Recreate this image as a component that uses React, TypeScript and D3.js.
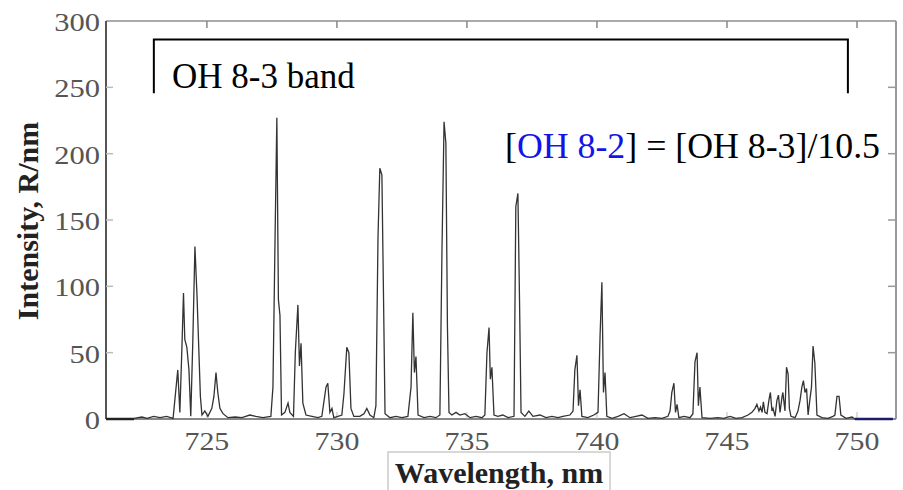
import React from "react";
import { scaleLinear, line } from "d3";

// OH 8-3 band airglow spectrum
const wavelength = [
  722.2, 722.5, 722.7, 722.95, 723.2, 723.45, 723.7, 723.88, 723.96, 724.04, 724.1, 724.15,
  724.23, 724.31, 724.38, 724.46, 724.54, 724.62, 724.69, 724.75, 724.81, 724.92, 725.04,
  725.19, 725.27, 725.35, 725.42, 725.5, 725.62, 725.81, 726.08, 726.35, 726.65, 726.88,
  727.15, 727.46, 727.54, 727.62, 727.69, 727.75, 727.81, 727.87, 728.0, 728.12, 728.19,
  728.33, 728.4, 728.5, 728.56, 728.62, 728.69, 728.81, 729.04, 729.27, 729.42, 729.58,
  729.65, 729.73, 729.81, 729.88, 730.04, 730.19, 730.27, 730.38, 730.46, 730.54, 730.65,
  730.88, 731.04, 731.15, 731.27, 731.42, 731.5, 731.58, 731.65, 731.73, 731.79, 731.85,
  732.04, 732.27, 732.5, 732.73, 732.85, 732.92, 732.98, 733.04, 733.12, 733.35, 733.58,
  733.81, 733.96, 734.04, 734.12, 734.19, 734.25, 734.31, 734.42, 734.58, 734.73, 734.92,
  735.12, 735.35, 735.58, 735.69, 735.77, 735.85, 735.9, 735.96, 736.04, 736.19, 736.38,
  736.58, 736.81, 736.88, 736.96, 737.02, 737.08, 737.23, 737.38, 737.54, 737.81, 738.04,
  738.27, 738.5, 738.69, 738.96, 739.08, 739.15, 739.23, 739.29, 739.35, 739.42, 739.65,
  739.88, 740.04, 740.12, 740.19, 740.25, 740.31, 740.38, 740.58, 740.81, 741.04, 741.27,
  741.5, 741.73, 741.96, 742.23, 742.5, 742.73, 742.81, 742.88, 742.96, 743.02, 743.08,
  743.15, 743.35, 743.58, 743.69, 743.77, 743.85, 743.9, 743.96, 744.04, 744.35, 744.65,
  744.88, 745.12, 745.35, 745.58, 745.81, 745.96, 746.08, 746.15, 746.23, 746.29, 746.35,
  746.4, 746.46, 746.54, 746.62, 746.67, 746.73, 746.77, 746.85, 746.92, 746.98, 747.04,
  747.12, 747.15, 747.23, 747.29, 747.35, 747.4, 747.46, 747.62, 747.73, 747.81, 747.88,
  747.94, 748.0, 748.06, 748.12, 748.19, 748.25, 748.31, 748.38, 748.46, 748.65, 748.88,
  749.08, 749.15, 749.23, 749.31, 749.38, 749.58, 749.81, 749.92,
];
const intensity = [
  0.5, 1.5, 0.5, 2, 1, 2, 0.5, 37, 5, 54, 95, 60,
  54, 37, 2, 60, 130, 93, 52, 17, 3, 6, 2,
  8, 17, 35, 20, 8, 4, 1, 1.5, 1, 3, 2,
  1, 2, 24, 135, 227, 90, 78, 3, 5, 12, 5,
  2, 50, 86, 40, 57, 12, 3, 2, 1, 2, 24,
  27, 5, 8, 1, 2, 3, 19, 54, 50, 8, 2,
  2, 4, 8, 3, 1, 10, 137, 189, 184, 95, 4,
  1, 2, 1, 2, 24, 80, 35, 47, 3, 1, 2,
  1, 3, 127, 224, 208, 70, 5, 3, 5, 3, 4,
  1, 2, 1, 3, 50, 69, 30, 39, 3, 2, 3,
  1, 2, 160, 170, 93, 5, 2, 6, 2, 3, 1,
  2, 1, 2, 3, 6, 37, 48, 10, 22, 2, 1,
  3, 5, 63, 103, 20, 35, 2, 0.5, 2, 4, 1,
  2, 3, 0.5, 1, 0.5, 2, 6, 20, 27, 5, 11,
  1, 2, 1, 4, 43, 50, 10, 24, 1, 0.5, 1,
  0.5, 2, 0.5, 1, 3, 5, 8, 11, 6, 9, 5,
  13, 5, 4, 15, 20, 6, 8, 2, 14, 18, 5,
  17, 20, 6, 39, 34, 8, 2, 1, 6, 14, 24,
  29, 20, 23, 3, 15, 24, 55, 42, 3, 1, 0.5,
  2, 3, 17, 17, 3, 0.5, 1.5, 0,
];
// flat zero segments at both ends of the window
const leftFlat = [721.12, 722.2];
const rightFlat = [749.92, 751.38];

const xTicks = [725, 730, 735, 740, 745, 750];
const yTicks = [0, 50, 100, 150, 200, 250, 300];

const bandRange = [722.96, 749.65];
const bracketTop = 286;
const bracketFoot = 245.5;

const serif = "'Liberation Serif', 'Times New Roman', serif";

export default function App() {
  const width = 903;
  const height = 490;
  const x = scaleLinear().domain([721.12, 751.5]).range([106, 896]);
  const y = scaleLinear().domain([0, 300]).range([419, 21]);

  const pts = wavelength.map((w, i) => [w, intensity[i]] as [number, number]);
  const path = line<[number, number]>()
    .x((d) => x(d[0]))
    .y((d) => y(d[1]));

  const [x0, x1] = x.range();
  const [yb, yt] = y.range();

  return (
    <svg
      width={width}
      height={height}
      style={{ position: "absolute", left: 0, top: 0, background: "#fff" }}
    >
      {/* frame */}
      <line x1={x0} x2={x1} y1={yt} y2={yt} stroke="#aaa" strokeWidth={2} />
      <line x1={x1} x2={x1} y1={yt} y2={yb} stroke="#999" strokeWidth={2} />
      <line x1={x0} x2={x1} y1={yb} y2={yb} stroke="#888" strokeWidth={2} />
      <line x1={x0} x2={x0} y1={yt} y2={yb} stroke="#555" strokeWidth={2} />

      {xTicks.map((t) => (
        <g key={"xt" + t}>
          <line x1={x(t)} x2={x(t)} y1={yt} y2={yt + 7} stroke="#888" strokeWidth={1.5} />
          <line x1={x(t)} x2={x(t)} y1={yb} y2={yb - 7} stroke="#bbb" strokeWidth={1} />
          <text
            transform={`translate(${x(t)},${yb + 31}) scale(1.15,1)`}
            textAnchor="middle"
            fontFamily={serif}
            fontSize={26}
            fill="#555"
          >
            {t}
          </text>
        </g>
      ))}
      {yTicks.map((t) => (
        <g key={"yt" + t}>
          {t > 0 && t < 300 && (
            <>
              <line x1={x0} x2={x0 + 7} y1={y(t)} y2={y(t)} stroke="#bbb" strokeWidth={1.5} />
              <line x1={x1} x2={x1 - 8} y1={y(t)} y2={y(t)} stroke="#999" strokeWidth={1.5} />
            </>
          )}
          <text
            transform={`translate(100,${y(t) + 10}) scale(1.22,1)`}
            textAnchor="end"
            fontFamily={serif}
            fontSize={25}
            fill="#555"
          >
            {t}
          </text>
        </g>
      ))}

      {/* spectrum */}
      <path
        d={path([[leftFlat[0], 0], [leftFlat[1], 0]]) || ""}
        fill="none"
        stroke="#222"
        strokeWidth={2.5}
      />
      <path d={path(pts) || ""} fill="none" stroke="#333" strokeWidth={1.3} />
      <path
        d={path([[rightFlat[0], 0], [rightFlat[1], 0]]) || ""}
        fill="none"
        stroke="#1c1c6a"
        strokeWidth={2.5}
      />

      {/* band bracket */}
      <path
        d={`M${x(bandRange[0])},${y(bracketFoot)}V${y(bracketTop)}H${x(bandRange[1])}V${y(bracketFoot)}`}
        fill="none"
        stroke="#000"
        strokeWidth={2}
      />
      <text x={172} y={88} fontFamily={serif} fontSize={35} fill="#000">
        OH 8-3 band
      </text>
      <text
        x={505}
        y={158}
        fontFamily={serif}
        fontSize={35}
        fill="#000"
        textLength={375}
        lengthAdjust="spacingAndGlyphs"
      >
        [<tspan fill="#1414e6">OH 8-2</tspan>] = [OH 8-3]/10.5
      </text>

      {/* axis titles */}
      <text
        transform="translate(38,221) rotate(-90)"
        textAnchor="middle"
        fontFamily={serif}
        fontWeight="bold"
        fontSize={30}
        fill="#222"
      >
        Intensity, R/nm
      </text>
      <rect x={388} y={452} width={222} height={45} fill="#fff" stroke="#ccc" strokeWidth={1.5} />
      <text
        x={499}
        y={483}
        textAnchor="middle"
        fontFamily={serif}
        fontWeight="bold"
        fontSize={30}
        fill="#222"
      >
        Wavelength, nm
      </text>
    </svg>
  );
}
